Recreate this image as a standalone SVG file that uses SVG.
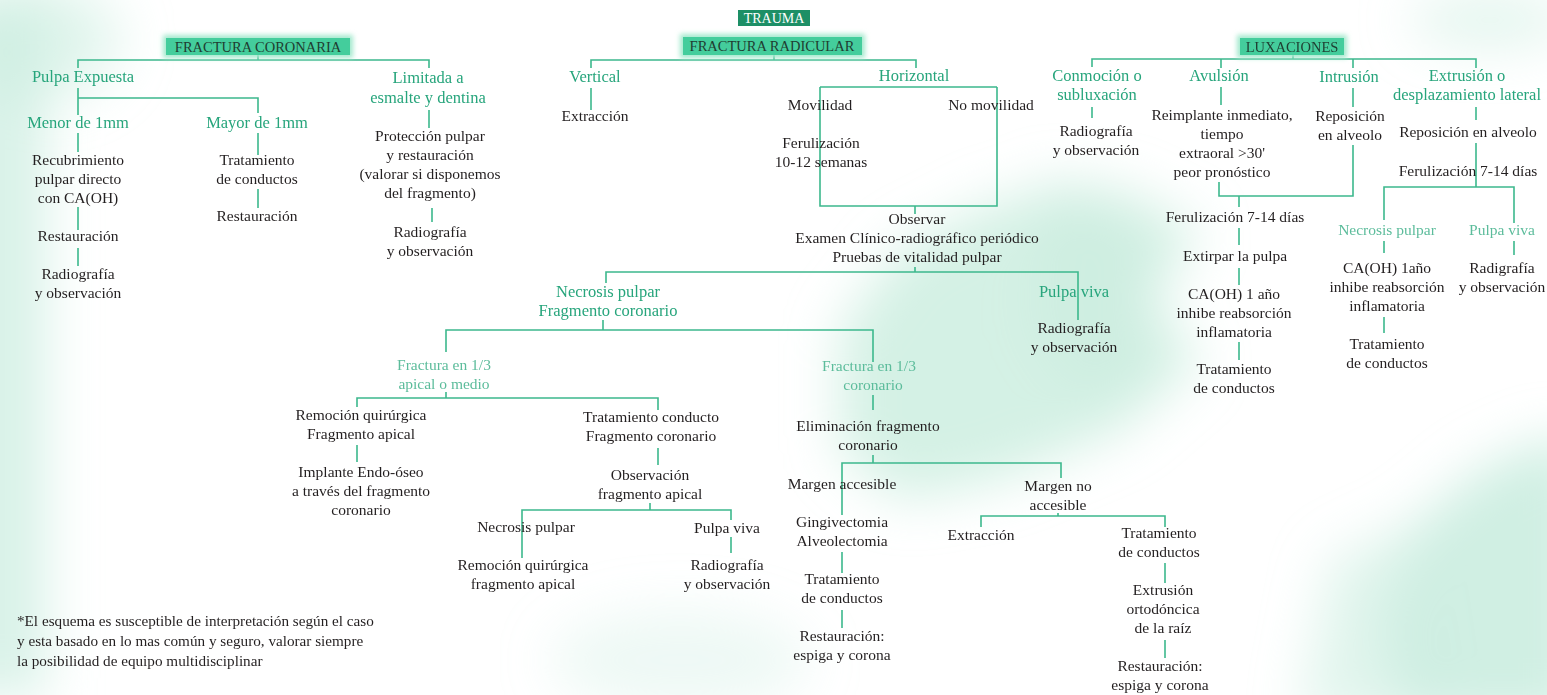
<svg xmlns="http://www.w3.org/2000/svg" width="1547" height="695" viewBox="0 0 1547 695">
<defs>
  <filter id="haze" x="-40%" y="-40%" width="180%" height="180%"><feGaussianBlur stdDeviation="26"/></filter>
  <filter id="glow" x="-20%" y="-60%" width="140%" height="220%"><feGaussianBlur stdDeviation="2.5"/></filter>
</defs>
<style>
  text{font-family:"Liberation Serif","Times New Roman",serif;text-anchor:middle}
  .t{font-size:15.5px;fill:#231f20}
  .g{font-size:16.5px;fill:#27a57c}
  .lg{font-size:15.5px;fill:#5cbc9b}
  .hd{font-size:14.5px;fill:#1f3d31}
  .tr{font-size:14px;fill:#ffffff}
  .box{fill:#44cd9c}
  .boxglow{fill:#a3e9cd}
  .c path{fill:none;stroke:#3cb88d;stroke-width:1.6}
  .note{font-size:15.2px;fill:#231f20;text-anchor:start}
  .mist{fill:#cdeee1}
</style>

<!-- paper -->
<rect width="1547" height="695" fill="#ffffff"/>

<!-- soft mint clouds in the background -->
<g id="background" filter="url(#haze)">
  <rect class="mist" x="-40" y="0" width="85" height="695" opacity="0.8"/>
  <path class="mist" d="M840 330 L900 250 L1000 200 L1120 190 L1200 230 L1150 300 L1200 360 L1120 430 L1000 480 L900 500 L840 450 Z" opacity="0.85"/>
  <path class="mist" d="M1040 180 L1110 190 L1160 260 L1150 380 L1080 400 L1030 330 Z" opacity="0.8"/>
  <path class="mist" d="M1420 520 L1480 470 L1547 440 L1580 440 L1580 720 L1400 720 L1380 620 Z" opacity="0.95"/>
  <path class="mist" d="M1330 560 L1420 520 L1450 720 L1300 720 Z" opacity="0.6"/>
  <ellipse class="mist" cx="1490" cy="20" rx="80" ry="25" opacity="0.6"/>
  <ellipse class="mist" cx="680" cy="660" rx="130" ry="50" opacity="0.35"/>
  <ellipse class="mist" cx="30" cy="40" rx="90" ry="60" opacity="0.6"/>
</g>

<!-- connectors -->
<g id="connectors" class="c">
  <!-- fractura coronaria -->
  <path d="M258 55V60 M78 68V60H429V68"/>
  <path d="M78 88V115 M78 98H258V113"/>
  <path d="M78 133V152 M78 207V230 M78 248V266"/>
  <path d="M258 133V155 M258 189V208"/>
  <path d="M429 110V128 M432 208V222"/>
  <!-- fractura radicular -->
  <path d="M774 55V60 M591 68V60H916V68"/>
  <path d="M591 88V110"/>
  <path d="M820 87H997 M820 87V206H997V87 M915 206V214"/>
  <path d="M915 267V272 M606 283V272H1078V320"/>
  <path d="M603 320V330 M446 352V330H873V362"/>
  <path d="M446 392V398 M357 407V398H658V410 M357 445V462 M658 448V465 M650 503V510"/>
  <path d="M522 558V510H731V520 M731 537V553"/>
  <path d="M873 395V410 M873 455V463 M842 515V463H1061V478 M842 552V573 M842 610V628"/>
  <path d="M1058 513V516 M981 527V516H1165V527 M1165 563V583 M1165 640V658"/>
  <!-- luxaciones -->
  <path d="M1293 54V59 M1092 67V59H1476V68 M1221 59V68 M1353 59V68"/>
  <path d="M1092 107V118 M1221 87V105 M1353 88V107"/>
  <path d="M1353 145V196H1219V182 M1239 196V207 M1239 228V245 M1239 268V285 M1239 342V360"/>
  <path d="M1476 107V120 M1476 143V187 M1384 220V187H1514V223"/>
  <path d="M1384 241V253 M1384 317V333 M1514 241V255"/>
</g>

<!-- header boxes -->
<g id="trauma">
  <rect x="738" y="10" width="72" height="16" fill="#1d8f66"/>
  <text class="tr" x="774" y="23">TRAUMA</text>
</g>
<g id="fractura-coronaria">
  <rect class="boxglow" x="163" y="35" width="190" height="23" filter="url(#glow)"/>
  <rect class="box" x="166" y="38" width="184" height="17"/>
  <text class="hd" x="258" y="52">FRACTURA CORONARIA</text>
</g>
<g id="fractura-radicular">
  <rect class="boxglow" x="680" y="34" width="185" height="24" filter="url(#glow)"/>
  <rect class="box" x="683" y="37" width="179" height="18"/>
  <text class="hd" x="772" y="51">FRACTURA RADICULAR</text>
</g>
<g id="luxaciones">
  <rect class="boxglow" x="1237" y="35" width="110" height="23" filter="url(#glow)"/>
  <rect class="box" x="1240" y="38" width="104" height="17"/>
  <text class="hd" x="1292" y="52">LUXACIONES</text>
</g>

<!-- fractura coronaria branch -->
<g id="pulpa-expuesta"><text class="g" x="83" y="82">Pulpa Expuesta</text></g>
<g id="menor-1mm"><text class="g" x="78" y="128">Menor de 1mm</text></g>
<g id="mayor-1mm"><text class="g" x="257" y="128">Mayor de 1mm</text></g>
<g id="limitada"><text class="g" x="428" y="83">Limitada a<tspan x="428" dy="20">esmalte y dentina</tspan></text></g>
<g id="recubrimiento"><text class="t" x="78" y="165">Recubrimiento<tspan x="78" dy="19">pulpar directo</tspan><tspan x="78" dy="19">con CA(OH)</tspan></text></g>
<g id="restauracion-1"><text class="t" x="78" y="241">Restauración</text></g>
<g id="radiografia-1"><text class="t" x="78" y="279">Radiografía<tspan x="78" dy="19">y observación</tspan></text></g>
<g id="tratamiento-1"><text class="t" x="257" y="165">Tratamiento<tspan x="257" dy="19">de conductos</tspan></text></g>
<g id="restauracion-2"><text class="t" x="257" y="221">Restauración</text></g>
<g id="proteccion"><text class="t" x="430" y="141">Protección pulpar<tspan x="430" dy="19">y restauración</tspan><tspan x="430" dy="19">(valorar si disponemos</tspan><tspan x="430" dy="19">del fragmento)</tspan></text></g>
<g id="radiografia-2"><text class="t" x="430" y="237">Radiografía<tspan x="430" dy="19">y observación</tspan></text></g>

<!-- fractura radicular branch -->
<g id="vertical"><text class="g" x="595" y="82">Vertical</text></g>
<g id="extraccion-1"><text class="t" x="595" y="121">Extracción</text></g>
<g id="horizontal"><text class="g" x="914" y="81">Horizontal</text></g>
<g id="movilidad"><text class="t" x="820" y="110">Movilidad</text></g>
<g id="no-movilidad"><text class="t" x="991" y="110">No movilidad</text></g>
<g id="ferulizacion-1"><text class="t" x="821" y="148">Ferulización<tspan x="821" dy="19">10-12 semanas</tspan></text></g>
<g id="observar"><text class="t" x="917" y="224">Observar<tspan x="917" dy="19">Examen Clínico-radiográfico periódico</tspan><tspan x="917" dy="19">Pruebas de vitalidad pulpar</tspan></text></g>
<g id="necrosis-fragmento"><text class="g" x="608" y="297">Necrosis pulpar<tspan x="608" dy="19">Fragmento coronario</tspan></text></g>
<g id="pulpa-viva-1"><text class="g" x="1074" y="297">Pulpa viva</text></g>
<g id="radiografia-3"><text class="t" x="1074" y="333">Radiografía<tspan x="1074" dy="19">y observación</tspan></text></g>
<g id="fractura-apical"><text class="lg" x="444" y="370">Fractura en 1/3<tspan x="444" dy="19">apical o medio</tspan></text></g>
<g id="fractura-coronario"><text class="lg" x="869" y="371">Fractura en 1/3<tspan x="873" dy="19">coronario</tspan></text></g>
<g id="remocion-1"><text class="t" x="361" y="420">Remoción quirúrgica<tspan x="361" dy="19">Fragmento apical</tspan></text></g>
<g id="implante"><text class="t" x="361" y="477">Implante Endo-óseo<tspan x="361" dy="19">a través del fragmento</tspan><tspan x="361" dy="19">coronario</tspan></text></g>
<g id="tratamiento-conducto"><text class="t" x="651" y="422">Tratamiento conducto<tspan x="651" dy="19">Fragmento coronario</tspan></text></g>
<g id="observacion-apical"><text class="t" x="650" y="480">Observación<tspan x="650" dy="19">fragmento apical</tspan></text></g>
<g id="necrosis-2"><text class="t" x="526" y="532">Necrosis pulpar</text></g>
<g id="remocion-2"><text class="t" x="523" y="570">Remoción quirúrgica<tspan x="523" dy="19">fragmento apical</tspan></text></g>
<g id="pulpa-viva-2"><text class="t" x="727" y="533">Pulpa viva</text></g>
<g id="radiografia-4"><text class="t" x="727" y="570">Radiografía<tspan x="727" dy="19">y observación</tspan></text></g>
<g id="eliminacion"><text class="t" x="868" y="431">Eliminación fragmento<tspan x="868" dy="19">coronario</tspan></text></g>
<g id="margen-accesible"><text class="t" x="842" y="489">Margen accesible</text></g>
<g id="gingivectomia"><text class="t" x="842" y="527">Gingivectomia<tspan x="842" dy="19">Alveolectomia</tspan></text></g>
<g id="tratamiento-2"><text class="t" x="842" y="584">Tratamiento<tspan x="842" dy="19">de conductos</tspan></text></g>
<g id="restauracion-3"><text class="t" x="842" y="641">Restauración:<tspan x="842" dy="19">espiga y corona</tspan></text></g>
<g id="margen-no"><text class="t" x="1058" y="491">Margen no<tspan x="1058" dy="19">accesible</tspan></text></g>
<g id="extraccion-2"><text class="t" x="981" y="540">Extracción</text></g>
<g id="tratamiento-3"><text class="t" x="1159" y="538">Tratamiento<tspan x="1159" dy="19">de conductos</tspan></text></g>
<g id="extrusion-ortodoncica"><text class="t" x="1163" y="595">Extrusión<tspan x="1163" dy="19">ortodóncica</tspan><tspan x="1163" dy="19">de la raíz</tspan></text></g>
<g id="restauracion-4"><text class="t" x="1160" y="671">Restauración:<tspan x="1160" dy="19">espiga y corona</tspan></text></g>

<!-- luxaciones branch -->
<g id="conmocion"><text class="g" x="1097" y="81">Conmoción o<tspan x="1097" dy="19">subluxación</tspan></text></g>
<g id="avulsion"><text class="g" x="1219" y="81">Avulsión</text></g>
<g id="intrusion"><text class="g" x="1349" y="82">Intrusión</text></g>
<g id="extrusion"><text class="g" x="1467" y="81">Extrusión o<tspan x="1467" dy="19">desplazamiento lateral</tspan></text></g>
<g id="radiografia-5"><text class="t" x="1096" y="136">Radiografía<tspan x="1096" dy="19">y observación</tspan></text></g>
<g id="reimplante"><text class="t" x="1222" y="120">Reimplante inmediato,<tspan x="1222" dy="19">tiempo</tspan><tspan x="1222" dy="19">extraoral &gt;30'</tspan><tspan x="1222" dy="19">peor pronóstico</tspan></text></g>
<g id="reposicion-1"><text class="t" x="1350" y="121">Reposición<tspan x="1350" dy="19">en alveolo</tspan></text></g>
<g id="ferulizacion-2"><text class="t" x="1235" y="222">Ferulización 7-14 días</text></g>
<g id="extirpar"><text class="t" x="1235" y="261">Extirpar la pulpa</text></g>
<g id="caoh-1"><text class="t" x="1234" y="299">CA(OH) 1 año<tspan x="1234" dy="19">inhibe reabsorción</tspan><tspan x="1234" dy="19">inflamatoria</tspan></text></g>
<g id="tratamiento-4"><text class="t" x="1234" y="374">Tratamiento<tspan x="1234" dy="19">de conductos</tspan></text></g>
<g id="reposicion-2"><text class="t" x="1468" y="137">Reposición en alveolo</text></g>
<g id="ferulizacion-3"><text class="t" x="1468" y="176">Ferulización 7-14 días</text></g>
<g id="necrosis-3"><text class="lg" x="1387" y="235">Necrosis pulpar</text></g>
<g id="pulpa-viva-3"><text class="lg" x="1502" y="235">Pulpa viva</text></g>
<g id="caoh-2"><text class="t" x="1387" y="273">CA(OH) 1año<tspan x="1387" dy="19">inhibe reabsorción</tspan><tspan x="1387" dy="19">inflamatoria</tspan></text></g>
<g id="tratamiento-5"><text class="t" x="1387" y="349">Tratamiento<tspan x="1387" dy="19">de conductos</tspan></text></g>
<g id="radigrafia"><text class="t" x="1502" y="273">Radigrafía<tspan x="1502" dy="19">y observación</tspan></text></g>

<!-- footnote -->
<g id="nota">
  <text class="note" x="17" y="626">*El esquema es susceptible de interpretación según el caso<tspan x="17" dy="20">y esta basado en lo mas común y seguro, valorar siempre</tspan><tspan x="17" dy="20">la posibilidad de equipo multidisciplinar</tspan></text>
</g>
</svg>
